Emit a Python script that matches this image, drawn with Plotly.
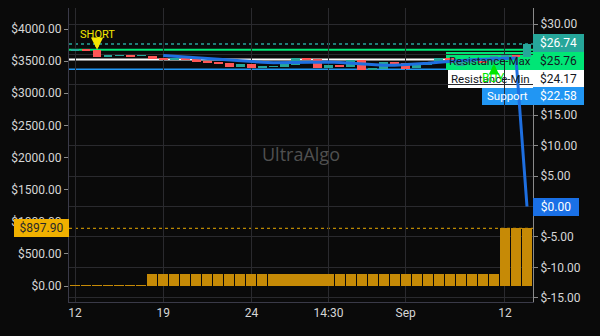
import plotly.graph_objects as go

# ---------------- data ----------------
idx = list(range(42))
opens = [25.72, 25.78, 25.76, 24.58, 24.75, 24.91, 24.78, 24.75, 24.47, 24.09,
         24.40, 24.36, 23.92, 23.81, 23.64, 22.98, 23.43, 22.82, 22.99, 22.98,
         23.26, 24.42, 24.25, 22.77, 23.26, 22.94, 24.09, 22.46, 22.55, 23.70,
         23.59, 22.90, 23.20, 23.64, 24.42, 23.10, 23.60, 23.90, 23.75, 24.58,
         24.91, 24.58]
closes = [25.78, 25.72, 24.58, 24.91, 24.91, 24.58, 24.88, 24.25, 24.09, 24.47,
          24.25, 23.81, 23.59, 23.38, 22.98, 23.43, 22.82, 23.10, 23.10, 23.48,
          24.42, 24.09, 22.77, 23.26, 22.94, 24.09, 22.46, 22.80, 23.81, 23.26,
          22.65, 23.20, 23.60, 24.42, 23.64, 23.70, 23.90, 23.70, 24.75, 24.91,
          24.58, 26.74]
ma_line = [None] * 8 + [24.84, 24.71, 24.58, 24.47, 24.30, 24.17, 24.06, 23.92,
           23.81, 23.71, 23.65, 23.68, 23.76, 23.81, 23.81, 23.76, 23.68, 23.56,
           23.43, 23.32, 23.23, 23.23, 23.32, 23.43, 23.56, 23.73, 23.89, 24.06,
           24.14, 24.22, 24.30, 24.38, 24.42, 0.00]
volume = [12] * 7 + [185] * 32 + [897.90] * 3

tick_pos = [0, 8, 16, 23, 30, 39]
tick_text = ["12", "19", "24", "14:30", "Sep", "12"]

last_price = 26.74
res_max = 25.76
res_min = 24.17
support = 22.58
ma_last = 0.00
vol_last = 897.90

# ---------------- style ----------------
BG = "#0a0a0a"
GRID = "#2a2a2e"
TXT = "#d6d6d6"
UP = "#26a69a"
DOWN = "#ff5656"
FONT = "Roboto"

fig = go.Figure()

# volume (left axis)
fig.add_trace(go.Bar(x=idx, y=volume, yaxis="y", marker=dict(color="#c68a06", line=dict(width=0)),
                     width=0.92, showlegend=False, hoverinfo="skip"))

# candles (right axis) drawn as bars with base
cols = [UP if c >= o else DOWN for o, c in zip(opens, closes)]
fig.add_trace(go.Bar(x=idx, base=opens, y=[c - o for o, c in zip(opens, closes)], yaxis="y2",
                     marker=dict(color=cols, line=dict(width=0)), width=0.8,
                     showlegend=False, hoverinfo="skip"))

# moving line
fig.add_trace(go.Scatter(x=idx, y=ma_line, yaxis="y2", mode="lines",
                         line=dict(color="#1e6fe0", width=3), connectgaps=False,
                         showlegend=False, hoverinfo="skip"))

# ---------------- geometry helpers ----------------
L, R, T, B = 69, 533, 8, 302
W, H = 600, 336

def py(ypix):
    return (B - ypix) / (B - T)

def px(xpix):
    return (xpix - L) / (R - L)

shapes = []
# horizontal level lines
shapes.append(dict(type="line", xref="paper", x0=0, x1=1, yref="y2", y0=last_price, y1=last_price,
                   line=dict(color=UP, width=1.5, dash="dot"), layer="between"))
shapes.append(dict(type="line", xref="paper", x0=0, x1=1, yref="y2", y0=res_max, y1=res_max,
                   line=dict(color="#00e676", width=2), layer="between"))
shapes.append(dict(type="line", xref="paper", x0=0, x1=1, yref="y2", y0=res_min, y1=res_min,
                   line=dict(color="#ffffff", width=2), layer="between"))
shapes.append(dict(type="line", xref="paper", x0=0, x1=1, yref="y2", y0=support, y1=support,
                   line=dict(color="#2196f3", width=1.5), layer="between"))
shapes.append(dict(type="line", xref="paper", x0=0, x1=1, yref="y2", y0=ma_last, y1=ma_last,
                   line=dict(color="#1e6fe0", width=1, dash="dot"), layer="between"))
shapes.append(dict(type="line", xref="paper", x0=0, x1=1, yref="y", y0=vol_last, y1=vol_last,
                   line=dict(color="#e8a800", width=1, dash="dot"), layer="between"))
# label boxes inside plot
shapes.append(dict(type="rect", xref="paper", x0=px(446), x1=1, yref="paper", y0=py(70), y1=py(52),
                   fillcolor="#00e676", line=dict(width=0), layer="between"))
shapes.append(dict(type="rect", xref="paper", x0=px(448), x1=1, yref="paper", y0=py(88), y1=py(70),
                   fillcolor="#ffffff", line=dict(width=0), layer="between"))
shapes.append(dict(type="rect", xref="paper", x0=px(482), x1=1, yref="paper", y0=py(105), y1=py(88),
                   fillcolor="#2196f3", line=dict(width=0), layer="between"))

ann = []
def label(text, xp, yp, size, color, family=FONT):
    ann.append(dict(text=text, xref="paper", yref="paper", x=px(xp), y=py(yp), showarrow=False,
                    xanchor="center", yanchor="middle", font=dict(family=family, size=size, color=color)))

# watermark
label("UltraAlgo", 301, 154, 18, "#505050", "Open Sans")
# in-plot label texts
label("Resistance-Max", 489.5, 61, 11.5, "#131722")
label("Resistance-Min", 490.5, 79, 11.5, "#131722")
label("Support", 507, 96.5, 11.5, "#ffffff")

# right axis price boxes
def price_box_px(ycenter, text, bg, fg, w=51):
    ann.append(dict(text=text, xref="paper", yref="paper", x=1, y=py(ycenter), xanchor="left",
                    yanchor="middle", showarrow=False, bgcolor=bg, borderwidth=0, borderpad=0,
                    width=w, height=18, font=dict(family=FONT, size=12, color=fg)))

price_box_px(43.5, "$%.2f" % last_price, UP, "#ffffff")
price_box_px(61, "$%.2f" % res_max, "#00e676", "#131722")
price_box_px(79, "$%.2f" % res_min, "#ffffff", "#131722")
price_box_px(96.5, "$%.2f" % support, "#2196f3", "#ffffff")
ann.append(dict(text="$%.2f" % ma_last, xref="paper", yref="y2", x=1, y=ma_last, xanchor="left",
                yanchor="middle", showarrow=False, bgcolor="#1a70e6", borderwidth=0, borderpad=0,
                width=46, height=18, font=dict(family=FONT, size=12, color="#ffffff")))

# left axis volume box
ann.append(dict(text="$%.2f" % vol_last, xref="paper", yref="y", x=0, y=vol_last, xanchor="right",
                yanchor="middle", showarrow=False, bgcolor="#f0b000", borderwidth=0, borderpad=0,
                width=55, height=18, font=dict(family=FONT, size=12, color="#2a2a2a")))

# signals
ann.append(dict(text="SHORT", x=2, y=opens[2], xref="x", yref="y2", showarrow=True, ax=0, ay=-15,
                arrowhead=2, arrowsize=0.7, arrowwidth=3.5, arrowcolor="#f5e600",
                font=dict(family=FONT, size=11, color="#f5e600")))
ann.append(dict(text="BUY", x=38, y=23.45, xref="x", yref="y2", showarrow=True, ax=0, ay=14,
                arrowhead=2, arrowsize=0.7, arrowwidth=3, arrowcolor="#00e600",
                font=dict(family=FONT, size=12, color="#00e600")))

fig.update_layout(
    width=W, height=H,
    margin=dict(l=L, r=W - R, t=T, b=H - B),
    paper_bgcolor=BG, plot_bgcolor=BG,
    barmode="overlay", bargap=0,
    showlegend=False,
    shapes=shapes, annotations=ann,
    font=dict(family=FONT, size=11, color=TXT),
    xaxis=dict(range=[-0.545, 41.545], tickmode="array", tickvals=tick_pos, ticktext=tick_text,
               showgrid=True, gridcolor=GRID, gridwidth=1, zeroline=False,
               showline=True, linecolor="#3a3a48", linewidth=1, ticks="",
               tickfont=dict(family=FONT, size=12, color=TXT)),
    yaxis=dict(side="left", range=[-249, 4327], tickmode="array",
               tickvals=[0, 500, 1000, 1500, 2000, 2500, 3000, 3500, 4000],
               ticktext=["$%.2f" % v for v in [0, 500, 1000, 1500, 2000, 2500, 3000, 3500, 4000]],
               showgrid=False, zeroline=False, showline=True, linecolor="#3a3a48", linewidth=1,
               ticks="outside", ticklen=4, tickcolor="#8a8a8a",
               tickfont=dict(family=FONT, size=12, color=TXT)),
    yaxis2=dict(side="right", overlaying="y", range=[-15.70, 32.64], tickmode="array",
                tickvals=[-15, -10, -5, 0, 5, 10, 15, 20, 25, 30],
                ticktext=["$%.2f" % v for v in [-15, -10, -5, 0, 5, 10, 15, 20, 25, 30]],
                showgrid=True, gridcolor=GRID, gridwidth=1, zeroline=False,
                showline=True, linecolor="#8a8a8a", linewidth=1,
                ticks="outside", ticklen=4, tickcolor="#8a8a8a",
                tickfont=dict(family=FONT, size=12, color=TXT)),
)

fig.write_html("out.html")
